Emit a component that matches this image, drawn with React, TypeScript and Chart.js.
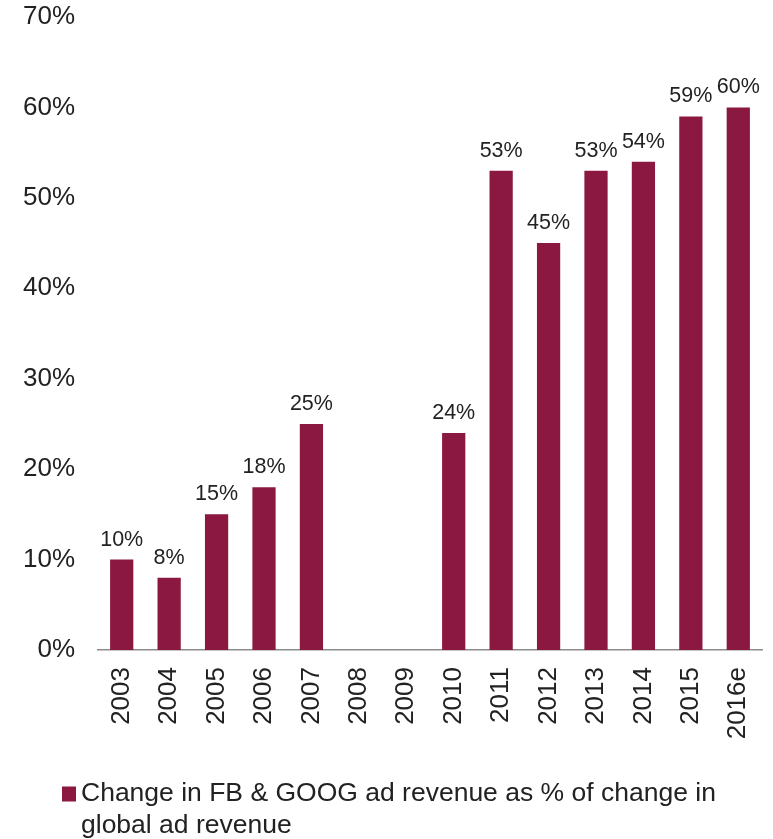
import React, { useEffect, useRef } from "react";
import { Chart, registerables } from "chart.js";

Chart.register(...registerables);

const categories = ["2003", "2004", "2005", "2006", "2007", "2008", "2009", "2010", "2011", "2012", "2013", "2014", "2015", "2016e"];
const shareValues: (number | null)[] = [10, 8, 15, 18, 25, null, null, 24, 53, 45, 53, 54, 59, 60];
const seriesLabel = "Change in FB & GOOG ad revenue as % of change in global ad revenue";
const barColor = "#8A1840";
const textColor = "#222222";
const fontFamily = "'Liberation Sans', Arial, Helvetica, sans-serif";

const W = 773;
const H = 839;

const dataLabelPlugin = {
  id: "dataLabels",
  afterDatasetsDraw(chart: any) {
    const ctx = chart.ctx;
    const meta = chart.getDatasetMeta(0);
    ctx.save();
    ctx.font = `21.5px ${fontFamily}`;
    ctx.fillStyle = textColor;
    ctx.textAlign = "center";
    ctx.textBaseline = "alphabetic";
    meta.data.forEach((el: any, i: number) => {
      const v = shareValues[i];
      if (v === null || v === undefined) return;
      ctx.fillText(`${v}%`, el.x, el.y - 14);
    });
    ctx.restore();
  },
};

const legendPlugin = {
  id: "wrappedLegend",
  afterDraw(chart: any) {
    const ctx = chart.ctx;
    ctx.save();
    ctx.font = `26.5px ${fontFamily}`;
    ctx.fillStyle = textColor;
    ctx.textBaseline = "middle";
    const maxW = 670;
    const words = seriesLabel.split(" ");
    const lines: string[] = [];
    let cur = "";
    words.forEach((w) => {
      const test = cur ? cur + " " + w : w;
      if (ctx.measureText(test).width > maxW && cur) {
        lines.push(cur);
        cur = w;
      } else cur = test;
    });
    if (cur) lines.push(cur);
    const x0 = 81;
    const y0 = 794;
    const lh = 32;
    ctx.fillStyle = barColor;
    ctx.fillRect(62, y0 - 7.5, 14, 15);
    ctx.fillStyle = textColor;
    lines.forEach((l, i) => ctx.fillText(l, x0, y0 + i * lh));
    ctx.restore();
  },
};

export default function App() {
  const ref = useRef<HTMLCanvasElement>(null);
  useEffect(() => {
    if (!ref.current) return;
    const chart = new Chart(ref.current, {
      type: "bar",
      data: {
        labels: categories,
        datasets: [
          {
            label: seriesLabel,
            data: shareValues as any,
            backgroundColor: barColor,
            barPercentage: 0.49,
            categoryPercentage: 1,
          },
        ],
      },
      options: {
        responsive: false,
        animation: false,
        layout: { padding: { top: 17, right: 11, left: 0, bottom: 0 } },
        plugins: { legend: { display: false }, tooltip: { enabled: false } },
        scales: {
          x: {
            grid: { display: false, drawTicks: false },
            border: { display: true, color: "#8c8c8c", width: 1.5 },
            ticks: {
              color: textColor,
              font: { size: 26, family: fontFamily },
              minRotation: 90,
              maxRotation: 90,
              padding: 17,
              autoSkip: false,
            },
            afterFit(scale: any) {
              scale.height = H - 650;
              scale.paddingLeft = 0;
              scale.paddingRight = 0;
            },
          },
          y: {
            min: 0,
            max: 70,
            grid: { display: false, drawTicks: false },
            border: { display: false },
            ticks: {
              stepSize: 10,
              color: textColor,
              font: { size: 26, family: fontFamily },
              padding: 23,
              callback: (v: any) => `${v}%`,
            },
            afterFit(scale: any) {
              scale.width = 98;
              scale.paddingTop = 0;
              scale.paddingBottom = 0;
            },
          },
        },
      },
      plugins: [dataLabelPlugin, legendPlugin],
    });
    return () => chart.destroy();
  }, []);
  return (
    <div style={{ position: "fixed", left: 0, top: 0, width: W, height: H, background: "#fff" }}>
      <canvas ref={ref} width={W} height={H} style={{ width: W, height: H, display: "block" }} />
    </div>
  );
}
